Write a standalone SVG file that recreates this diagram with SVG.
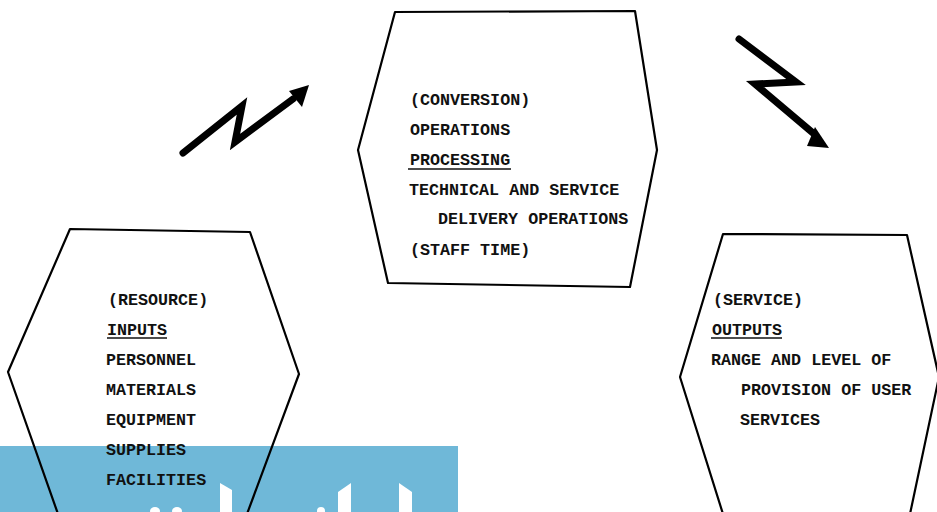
<svg xmlns="http://www.w3.org/2000/svg" width="937" height="512" viewBox="0 0 937 512">
<style>
.hex{fill:none;stroke:#000;stroke-width:2.2;stroke-linejoin:round}
.t{font-family:"Liberation Mono","DejaVu Sans Mono",monospace;font-weight:bold;font-size:16.7px;fill:#111}
.ul{stroke:#111;stroke-width:1.6}
.zz{fill:none;stroke:#000;stroke-width:7;stroke-linejoin:miter;stroke-linecap:round}
.ah{fill:#000}
</style>
<rect width="937" height="512" fill="#fff"/>
<rect x="0" y="446" width="458" height="66" fill="#6fb8d8"/>
<g fill="#fff">
<polygon points="220,483 232,490 232,512 220,512"/>
<polygon points="338,492 351,483 351,512 338,512"/>
<polygon points="399,483 412,492 412,512 399,512"/>
<ellipse cx="155" cy="511" rx="5" ry="4"/>
<ellipse cx="177" cy="511" rx="5" ry="4"/>
<ellipse cx="321" cy="511" rx="4" ry="4"/>
</g>
<g id="conversion">
<polygon class="hex" points="395,12 635,11 657,150 630,287 388,283 358,150"/>
<text class="t" x="410" y="105">(CONVERSION)</text>
<text class="t" x="410" y="135">OPERATIONS</text>
<text class="t" x="410" y="165">PROCESSING</text>
<line class="ul" x1="408" y1="169" x2="511" y2="169"/>
<text class="t" x="409" y="195">TECHNICAL AND SERVICE</text>
<text class="t" x="438" y="224">DELIVERY OPERATIONS</text>
<text class="t" x="410" y="255">(STAFF TIME)</text>
</g>
<g id="inputs">
<polyline class="hex" points="58,514 8,372 70,229 250,232 299,374 247,514"/>
<text class="t" x="108" y="305">(RESOURCE)</text>
<text class="t" x="107" y="335">INPUTS</text>
<line class="ul" x1="107" y1="338" x2="167" y2="338"/>
<text class="t" x="106" y="365">PERSONNEL</text>
<text class="t" x="106" y="395">MATERIALS</text>
<text class="t" x="106" y="425">EQUIPMENT</text>
<text class="t" x="106" y="455">SUPPLIES</text>
<text class="t" x="106" y="485">FACILITIES</text>
</g>
<g id="outputs">
<polyline class="hex" points="723,514 680,377 723,234 907,235 939,377 910,514"/>
<text class="t" x="713" y="305">(SERVICE)</text>
<text class="t" x="712" y="335">OUTPUTS</text>
<line class="ul" x1="711" y1="338" x2="782" y2="338"/>
<text class="t" x="711" y="365">RANGE AND LEVEL OF</text>
<text class="t" x="741" y="395">PROVISION OF USER</text>
<text class="t" x="740" y="425">SERVICES</text>
</g>
<g id="connectors">
<polyline class="zz" points="183,153 242,106 235,142 293,99"/>
<polygon class="ah" points="289,91 309,85 302,107"/>
<polyline class="zz" points="739,39 796,82 755,84 813,133"/>
<polygon class="ah" points="815,127 829,148 807,146"/>
</g>
</svg>
